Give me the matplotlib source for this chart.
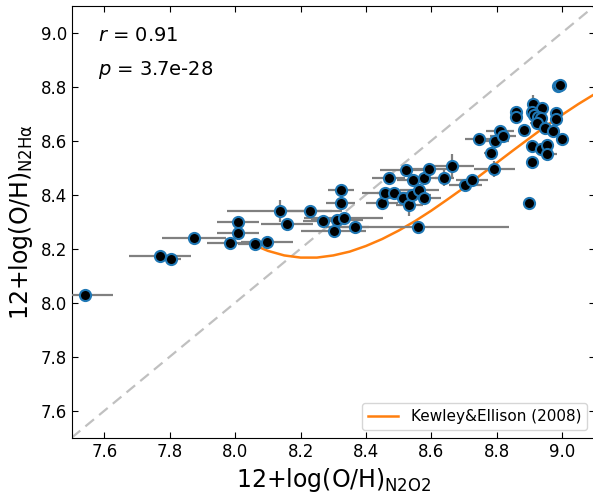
import matplotlib
matplotlib.use("Agg")
import matplotlib.pyplot as plt

# 12+log(O/H) from N2O2 (x) and N2Ha (y), with uncertainties
oh_n2o2 = [7.541, 7.770, 7.805, 7.874, 7.985, 8.009, 8.009, 8.060, 8.097, 8.136,
           8.228, 8.158, 8.268, 8.301, 8.311, 8.332, 8.323, 8.323, 8.368, 8.449,
           8.457, 8.485, 8.469, 8.523, 8.513, 8.533, 8.540, 8.563, 8.545, 8.579,
           8.579, 8.558, 8.594, 8.640, 8.663, 8.704, 8.724, 8.793, 8.782, 8.745,
           8.796, 8.810, 8.820, 8.987, 8.993, 8.912, 8.937, 8.859, 8.859, 8.909,
           8.914, 8.927, 8.935, 8.922, 8.981, 8.981, 8.947, 8.884, 8.973, 8.999,
           8.909, 8.935, 8.953, 8.955, 8.909, 8.899]
oh_n2ha = [8.029, 8.173, 8.161, 8.239, 8.222, 8.300, 8.257, 8.218, 8.224, 8.340,
           8.340, 8.291, 8.303, 8.266, 8.306, 8.315, 8.370, 8.417, 8.279, 8.368,
           8.405, 8.407, 8.463, 8.491, 8.387, 8.362, 8.399, 8.417, 8.454, 8.463,
           8.387, 8.279, 8.494, 8.461, 8.506, 8.436, 8.454, 8.494, 8.556, 8.605,
           8.599, 8.636, 8.617, 8.803, 8.807, 8.735, 8.722, 8.707, 8.687, 8.707,
           8.695, 8.689, 8.683, 8.664, 8.701, 8.679, 8.646, 8.640, 8.636, 8.605,
           8.580, 8.568, 8.584, 8.551, 8.520, 8.368]
err_n2o2 = [0.086, 0.094, 0.030, 0.099, 0.070, 0.064, 0.064, 0.050, 0.080, 0.160,
            0.100, 0.080, 0.060, 0.100, 0.080, 0.120, 0.045, 0.040, 0.040, 0.050,
            0.070, 0.050, 0.050, 0.080, 0.060, 0.040, 0.060, 0.060, 0.050, 0.040,
            0.050, 0.280, 0.060, 0.030, 0.067, 0.050, 0.050, 0.064, 0.020, 0.043,
            0.040, 0.043, 0.040, 0.010, 0.010, 0.010, 0.020, 0.020, 0.020, 0.020,
            0.020, 0.020, 0.020, 0.020, 0.015, 0.015, 0.020, 0.020, 0.020, 0.010,
            0.020, 0.020, 0.020, 0.030, 0.010, 0.015]
err_n2ha = [0.01, 0.01, 0.01, 0.01, 0.01, 0.01, 0.01, 0.01, 0.01, 0.04,
            0.01, 0.01, 0.01, 0.01, 0.01, 0.01, 0.01, 0.01, 0.01, 0.01,
            0.01, 0.01, 0.01, 0.02, 0.01, 0.04, 0.01, 0.01, 0.01, 0.01,
            0.01, 0.01, 0.01, 0.03, 0.046, 0.01, 0.02, 0.03, 0.01, 0.01,
            0.01, 0.01, 0.01, 0.01, 0.01, 0.034, 0.01, 0.01, 0.01, 0.01,
            0.01, 0.01, 0.01, 0.01, 0.02, 0.01, 0.01, 0.01, 0.01, 0.01,
            0.01, 0.01, 0.01, 0.02, 0.02, 0.01]

# Kewley & Ellison (2008) conversion curve
ke08_x = [8.06, 8.10, 8.15, 8.20, 8.25, 8.30, 8.35, 8.40, 8.45, 8.50, 8.55, 8.60,
          8.65, 8.70, 8.75, 8.80, 8.85, 8.90, 8.95, 9.00, 9.05, 9.10]
ke08_y = [8.212, 8.192, 8.175, 8.167, 8.167, 8.175, 8.189, 8.210, 8.236, 8.267,
          8.302, 8.341, 8.383, 8.426, 8.472, 8.518, 8.564, 8.609, 8.654, 8.696,
          8.736, 8.773]

lims = [7.5, 9.1]
r_text = "$r$ = 0.91"
p_text = "$p$ = 3.7e-28"

fig = plt.figure(figsize=(5.93, 4.93), dpi=100)
ax = fig.add_axes([0.1209, 0.1122, 0.8822, 0.8763])

ax.plot(lims, lims, ls="--", color="#c0c0c0", lw=1.6, dashes=(5, 3), zorder=1)
ax.plot(ke08_x, ke08_y, color="tab:orange", lw=1.8, zorder=2, label="Kewley&Ellison (2008)")
ax.errorbar(oh_n2o2, oh_n2ha, xerr=err_n2o2, yerr=err_n2ha, fmt="none",
            ecolor="#808080", elinewidth=1.6, capsize=0, zorder=3)
ax.plot(oh_n2o2, oh_n2ha, "o", ms=8, mfc="black", mec="tab:blue", mew=1.5, zorder=4)

ax.set_xlim(lims)
ax.set_ylim(lims)
ax.set_xticks([7.6, 7.8, 8.0, 8.2, 8.4, 8.6, 8.8, 9.0])
ax.set_yticks([7.6, 7.8, 8.0, 8.2, 8.4, 8.6, 8.8, 9.0])
ax.tick_params(direction="in", top=True, right=True, labelsize=12, length=4.5)

ax.set_xlabel(r"12+log(O/H)$_{\rm N2O2}$", fontsize=17)
ax.set_ylabel(r"12+log(O/H)$_{\rm N2H\alpha}$", fontsize=17)

ax.text(0.051, 0.932, r_text, transform=ax.transAxes, fontsize=14, va="center")
ax.text(0.051, 0.851, p_text, transform=ax.transAxes, fontsize=14, va="center")

ax.legend(loc="lower right", fontsize=11)

fig.savefig("out.png", dpi=100)
